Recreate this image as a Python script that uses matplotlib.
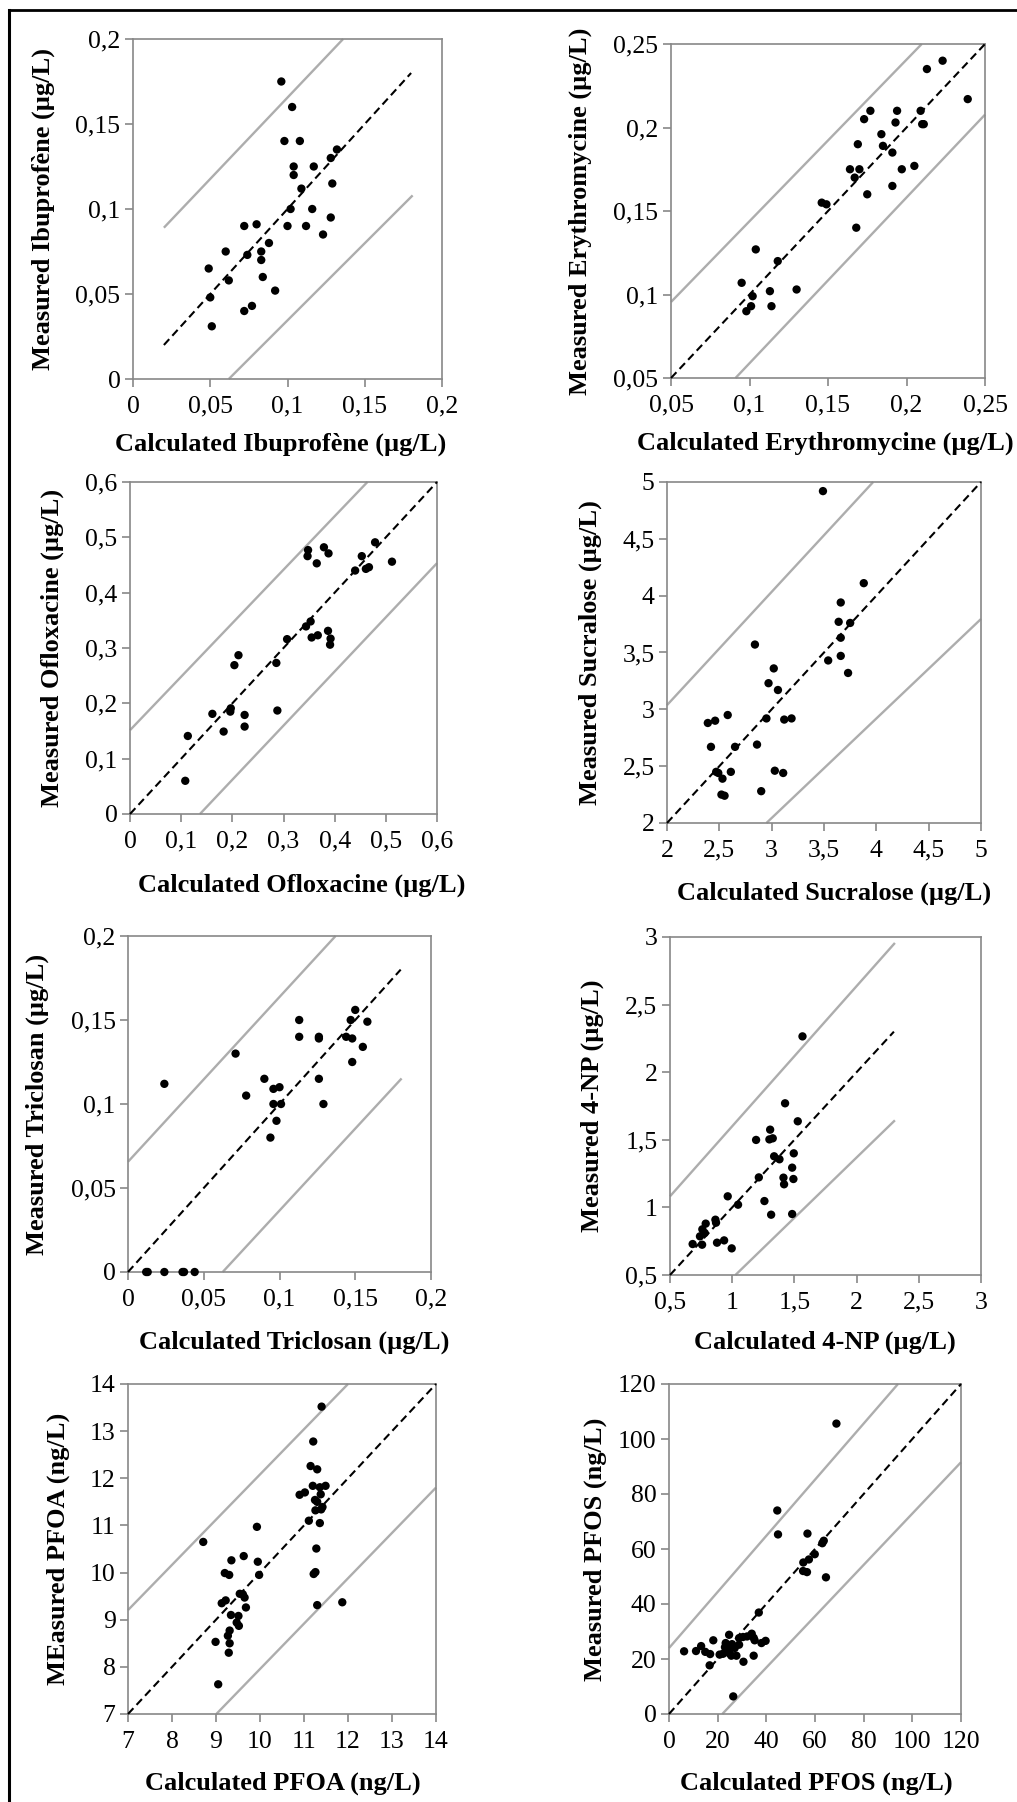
import matplotlib
matplotlib.use("Agg")
import matplotlib.pyplot as plt
from matplotlib.lines import Line2D

plt.rcParams['font.family'] = ['Liberation Serif', 'DejaVu Serif']

# ---------------- data ----------------
# Ibuprofène
ibu_calc = [0.096, 0.103, 0.098, 0.108, 0.132, 0.128, 0.104, 0.117, 0.104, 0.129, 0.109, 0.102,
            0.116, 0.128, 0.072, 0.080, 0.100, 0.112, 0.123, 0.088, 0.060, 0.083, 0.074, 0.083,
            0.049, 0.062, 0.084, 0.092, 0.050, 0.072, 0.077, 0.051]
ibu_meas = [0.175, 0.160, 0.140, 0.140, 0.135, 0.130, 0.125, 0.125, 0.120, 0.115, 0.112, 0.100,
            0.100, 0.095, 0.090, 0.091, 0.090, 0.090, 0.085, 0.080, 0.075, 0.075, 0.073, 0.070,
            0.065, 0.058, 0.060, 0.052, 0.048, 0.040, 0.043, 0.031]
ibu_fit = [0.02, 0.18]
ibu_upper_x = [0.02, 0.136]
ibu_upper_y = [0.089, 0.2]
ibu_lower_x = [0.062, 0.181]
ibu_lower_y = [0.0, 0.108]

# Erythromycine
ery_calc = [0.223, 0.213, 0.239, 0.177, 0.194, 0.209, 0.173, 0.193, 0.210, 0.211, 0.184, 0.169,
            0.185, 0.191, 0.164, 0.170, 0.197, 0.205, 0.167, 0.191, 0.175, 0.146, 0.149, 0.168,
            0.104, 0.118, 0.095, 0.113, 0.130, 0.102, 0.101, 0.114, 0.098]
ery_meas = [0.240, 0.235, 0.217, 0.210, 0.210, 0.210, 0.205, 0.203, 0.202, 0.202, 0.196, 0.190,
            0.189, 0.185, 0.175, 0.175, 0.175, 0.177, 0.170, 0.165, 0.160, 0.155, 0.154, 0.140,
            0.127, 0.120, 0.107, 0.102, 0.103, 0.099, 0.093, 0.093, 0.090]
ery_fit = [0.05, 0.25]
ery_upper_x = [0.05, 0.2097]
ery_upper_y = [0.0955, 0.25]
ery_lower_x = [0.0911, 0.25]
ery_lower_y = [0.05, 0.2077]

# Ofloxacine
oflo_calc = [0.348, 0.347, 0.379, 0.388, 0.365, 0.479, 0.453, 0.512, 0.440, 0.461, 0.467, 0.344,
             0.353, 0.355, 0.367, 0.387, 0.392, 0.391, 0.307, 0.212, 0.204, 0.286, 0.161, 0.197,
             0.196, 0.224, 0.224, 0.288, 0.183, 0.113, 0.108]
oflo_meas = [0.477, 0.466, 0.482, 0.471, 0.453, 0.491, 0.466, 0.456, 0.440, 0.443, 0.446, 0.339,
             0.348, 0.319, 0.323, 0.331, 0.317, 0.306, 0.316, 0.287, 0.269, 0.273, 0.181, 0.191,
             0.185, 0.179, 0.158, 0.187, 0.149, 0.141, 0.060]
oflo_fit = [0.0, 0.6]
oflo_upper_x = [0.0, 0.464]
oflo_upper_y = [0.1515, 0.6]
oflo_lower_x = [0.1367, 0.6]
oflo_lower_y = [0.0, 0.4533]

# Sucralose
suc_calc = [3.49, 3.88, 3.66, 3.64, 3.75, 3.66, 3.66, 3.54, 3.73, 2.84, 3.02, 2.97, 3.06, 2.58,
            2.95, 3.12, 3.19, 2.39, 2.46, 2.42, 2.65, 2.86, 2.47, 2.49, 2.61, 3.03, 3.11, 2.53,
            2.52, 2.55, 2.90]
suc_meas = [4.92, 4.11, 3.94, 3.77, 3.76, 3.63, 3.47, 3.43, 3.32, 3.57, 3.36, 3.23, 3.17, 2.95,
            2.92, 2.91, 2.92, 2.88, 2.90, 2.67, 2.67, 2.69, 2.45, 2.44, 2.45, 2.46, 2.44, 2.39,
            2.25, 2.24, 2.28]
suc_fit = [2.0, 5.0]
suc_upper_x = [2.0, 3.97]
suc_upper_y = [3.037, 5.0]
suc_lower_x = [2.95, 5.0]
suc_lower_y = [2.0, 3.795]

# Triclosan
tri_calc = [0.024, 0.071, 0.078, 0.090, 0.094, 0.096, 0.100, 0.096, 0.101, 0.098, 0.113, 0.113,
            0.126, 0.126, 0.126, 0.129, 0.144, 0.147, 0.150, 0.148, 0.158, 0.155, 0.148, 0.012,
            0.013, 0.024, 0.036, 0.037, 0.044]
tri_meas = [0.112, 0.130, 0.105, 0.115, 0.080, 0.109, 0.110, 0.100, 0.100, 0.090, 0.150, 0.140,
            0.140, 0.139, 0.115, 0.100, 0.140, 0.150, 0.156, 0.139, 0.149, 0.134, 0.125, 0.0,
            0.0, 0.0, 0.0, 0.0, 0.0]
tri_fit = [0.0, 0.18]
tri_upper_x = [0.0, 0.137]
tri_upper_y = [0.0656, 0.2]
tri_lower_x = [0.0625, 0.1806]
tri_lower_y = [0.0, 0.1152]

# 4-NP
np_calc = [1.565, 1.425, 1.527, 1.305, 1.192, 1.299, 1.326, 1.495, 1.337, 1.380, 1.482, 1.214,
           1.412, 1.492, 1.417, 0.964, 1.047, 1.259, 1.313, 1.482, 0.865, 0.787, 0.870, 0.760,
           0.779, 0.741, 0.682, 0.758, 0.878, 0.935, 0.996]
np_meas = [2.265, 1.770, 1.637, 1.575, 1.499, 1.503, 1.511, 1.400, 1.378, 1.356, 1.294, 1.222,
           1.220, 1.210, 1.171, 1.082, 1.020, 1.047, 0.946, 0.951, 0.909, 0.880, 0.887, 0.838,
           0.811, 0.786, 0.729, 0.724, 0.739, 0.756, 0.697]
np_fit = [0.5, 2.3]
np_upper_x = [0.5, 2.308]
np_upper_y = [1.082, 2.956]
np_lower_x = [1.026, 2.308]
np_lower_y = [0.5, 1.644]

# PFOA
pfoa_calc = [11.40, 11.21, 11.15, 11.30, 11.20, 11.36, 11.49, 10.90, 11.02, 11.38, 11.25, 11.30,
             11.26, 11.39, 11.42, 11.11, 11.36, 11.28, 11.26, 11.22, 11.30, 11.87, 8.71, 9.93,
             9.63, 9.35, 9.95, 9.20, 9.30, 9.98, 9.54, 9.61, 9.65, 9.68, 9.13, 9.22, 9.34, 9.51,
             9.47, 9.52, 9.31, 9.27, 8.99, 9.31, 9.29, 9.05]
pfoa_meas = [13.52, 12.78, 12.26, 12.19, 11.84, 11.81, 11.84, 11.65, 11.70, 11.66, 11.54, 11.50,
             11.32, 11.34, 11.39, 11.10, 11.05, 10.51, 10.01, 9.97, 9.31, 9.37, 10.65, 10.97,
             10.35, 10.26, 10.23, 9.99, 9.95, 9.95, 9.55, 9.54, 9.47, 9.26, 9.35, 9.41, 9.10, 9.08,
             8.94, 8.87, 8.77, 8.66, 8.53, 8.50, 8.30, 7.63]
pfoa_fit = [7.0, 14.0]
pfoa_upper_x = [7.0, 12.0]
pfoa_upper_y = [9.204, 14.0]
pfoa_lower_x = [9.008, 14.0]
pfoa_lower_y = [7.0, 11.803]

# PFOS
pfos_calc = [68.8, 44.5, 44.8, 56.9, 63.6, 63.0, 59.9, 57.5, 55.2, 55.1, 56.7, 64.5, 36.9, 6.2,
             11.1, 13.2, 14.9, 16.9, 18.2, 16.7, 20.8, 22.2, 23.3, 24.7, 24.0, 24.9, 25.6, 27.7,
             27.0, 28.8, 28.8, 30.4, 32.1, 34.0, 34.8, 35.2, 30.6, 34.8, 38.0, 39.7, 26.4, 23.0, 25.9]
pfos_meas = [105.6, 74.0, 65.3, 65.6, 63.0, 62.1, 58.1, 56.2, 55.1, 52.0, 51.6, 49.7, 36.9, 22.8,
             22.9, 24.7, 22.6, 21.8, 26.8, 17.7, 21.6, 21.9, 25.8, 28.8, 24.0, 22.0, 21.2, 21.2,
             24.0, 25.2, 27.6, 28.0, 28.2, 29.2, 27.7, 26.8, 19.0, 21.2, 25.8, 26.6, 6.4, 24.3, 25.4]
pfos_fit = [0.0, 120.0]
pfos_upper_x = [0.0, 94.1]
pfos_upper_y = [23.98, 120.0]
pfos_lower_x = [21.9, 120.0]
pfos_lower_y = [0.0, 91.55]

# axis ticks / labels
ibu_ticks = [0, 0.05, 0.1, 0.15, 0.2]
ibu_ticklabels = ['0', '0,05', '0,1', '0,15', '0,2']
ery_ticks = [0.05, 0.1, 0.15, 0.2, 0.25]
ery_ticklabels = ['0,05', '0,1', '0,15', '0,2', '0,25']
oflo_ticks = [0, 0.1, 0.2, 0.3, 0.4, 0.5, 0.6]
oflo_ticklabels = ['0', '0,1', '0,2', '0,3', '0,4', '0,5', '0,6']
suc_ticks = [2, 2.5, 3, 3.5, 4, 4.5, 5]
suc_ticklabels = ['2', '2,5', '3', '3,5', '4', '4,5', '5']
tri_ticks = [0, 0.05, 0.1, 0.15, 0.2]
tri_ticklabels = ['0', '0,05', '0,1', '0,15', '0,2']
np_ticks = [0.5, 1, 1.5, 2, 2.5, 3]
np_ticklabels = ['0,5', '1', '1,5', '2', '2,5', '3']
pfoa_ticks = [7, 8, 9, 10, 11, 12, 13, 14]
pfoa_ticklabels = ['7', '8', '9', '10', '11', '12', '13', '14']
pfos_ticks = [0, 20, 40, 60, 80, 100, 120]
pfos_ticklabels = ['0', '20', '40', '60', '80', '100', '120']

xlabels = ['Calculated Ibuprofène (µg/L)', 'Calculated Erythromycine (µg/L)',
           'Calculated Ofloxacine (µg/L)', 'Calculated Sucralose (µg/L)',
           'Calculated Triclosan (µg/L)', 'Calculated 4-NP (µg/L)',
           'Calculated PFOA (ng/L)', 'Calculated PFOS (ng/L)']
ylabels = ['Measured Ibuprofène (µg/L)', 'Measured Erythromycine (µg/L)',
           'Measured Ofloxacine (µg/L)', 'Measured Sucralose (µg/L)',
           'Measured Triclosan (µg/L)', 'Measured 4-NP (µg/L)',
           'MEasured PFOA (ng/L)', 'Measured PFOS (ng/L)']

# ---------------- layout (pixels) ----------------
W, H = 1017, 1802
# left, top, right, bottom of each plot area
rects = [(133, 39, 442, 379), (671, 44, 985, 378),
         (130, 482, 437, 814), (667, 482, 981, 823),
         (128, 936, 431, 1272), (670, 937, 981, 1275),
         (128, 1384, 436, 1714), (669, 1384, 961, 1714)]
xlabel_pos = [(281, 444), (825, 443), (302, 885), (834, 893),
              (294, 1342), (825, 1342), (283, 1783), (816, 1783)]
ylabel_x = [43, 580, 52, 590, 37, 592, 58, 595]

panels = [
    (ibu_calc, ibu_meas, ibu_fit, ibu_upper_x, ibu_upper_y, ibu_lower_x, ibu_lower_y, ibu_ticks, ibu_ticklabels),
    (ery_calc, ery_meas, ery_fit, ery_upper_x, ery_upper_y, ery_lower_x, ery_lower_y, ery_ticks, ery_ticklabels),
    (oflo_calc, oflo_meas, oflo_fit, oflo_upper_x, oflo_upper_y, oflo_lower_x, oflo_lower_y, oflo_ticks, oflo_ticklabels),
    (suc_calc, suc_meas, suc_fit, suc_upper_x, suc_upper_y, suc_lower_x, suc_lower_y, suc_ticks, suc_ticklabels),
    (tri_calc, tri_meas, tri_fit, tri_upper_x, tri_upper_y, tri_lower_x, tri_lower_y, tri_ticks, tri_ticklabels),
    (np_calc, np_meas, np_fit, np_upper_x, np_upper_y, np_lower_x, np_lower_y, np_ticks, np_ticklabels),
    (pfoa_calc, pfoa_meas, pfoa_fit, pfoa_upper_x, pfoa_upper_y, pfoa_lower_x, pfoa_lower_y, pfoa_ticks, pfoa_ticklabels),
    (pfos_calc, pfos_meas, pfos_fit, pfos_upper_x, pfos_upper_y, pfos_lower_x, pfos_lower_y, pfos_ticks, pfos_ticklabels),
]

SPINE = '#888888'
BAND = '#adadad'
TICK_FS = 18.5
LABEL_FS = 19

fig = plt.figure(figsize=(W / 100, H / 100), dpi=100)
fig.patch.set_facecolor('white')

for i, (cx, my, fit, ux, uy, lx, ly, ticks, tlabels) in enumerate(panels):
    l, t, r, b = rects[i]
    ax = fig.add_axes([l / W, 1 - b / H, (r - l) / W, (b - t) / H])
    ax.set_xlim(ticks[0], ticks[-1])
    ax.set_ylim(ticks[0], ticks[-1])
    ax.plot(ux, uy, color=BAND, lw=1.7, solid_capstyle='butt', clip_on=False, zorder=2)
    ax.plot(lx, ly, color=BAND, lw=1.7, solid_capstyle='butt', clip_on=False, zorder=2)
    ax.plot(fit, fit, color='black', lw=1.5, linestyle=(0, (3.8, 2.2)), clip_on=False, zorder=3)
    ax.scatter(cx, my, s=36, color='black', edgecolors='none', zorder=4, clip_on=False)

    ax.set_xticks(ticks)
    ax.set_xticklabels(tlabels)
    ax.set_yticks(ticks)
    ax.set_yticklabels(tlabels)
    for sp in ax.spines.values():
        sp.set_color(SPINE)
        sp.set_linewidth(1.2)
    ax.tick_params(axis='both', direction='out', length=6, width=1.2, color=SPINE,
                   labelsize=TICK_FS, labelcolor='black')
    ax.tick_params(axis='x', pad=6)
    ax.tick_params(axis='y', pad=3)

    # axis labels
    xl_x, xl_y = xlabel_pos[i]
    ax.set_xlabel(xlabels[i], fontsize=LABEL_FS, fontweight='bold')
    ax.xaxis.set_label_coords((xl_x - l) / (r - l), (b - xl_y) / (b - t))
    ax.xaxis.label.set_va('center')
    ax.set_ylabel(ylabels[i], fontsize=LABEL_FS, fontweight='bold')
    ax.yaxis.set_label_coords((ylabel_x[i] - l) / (r - l), 0.5)
    ax.yaxis.label.set_va('center')
    ax.yaxis.label.set_ha('center')

# outer frame lines (top and left)
fig.add_artist(Line2D([9 / W, 1.0], [1 - 10 / H, 1 - 10 / H], color='black', lw=2.0,
                      transform=fig.transFigure))
fig.add_artist(Line2D([9 / W, 9 / W], [1 - 10 / H, 0.0], color='black', lw=2.2,
                      transform=fig.transFigure))

fig.savefig('out.png', dpi=100, facecolor='white')
